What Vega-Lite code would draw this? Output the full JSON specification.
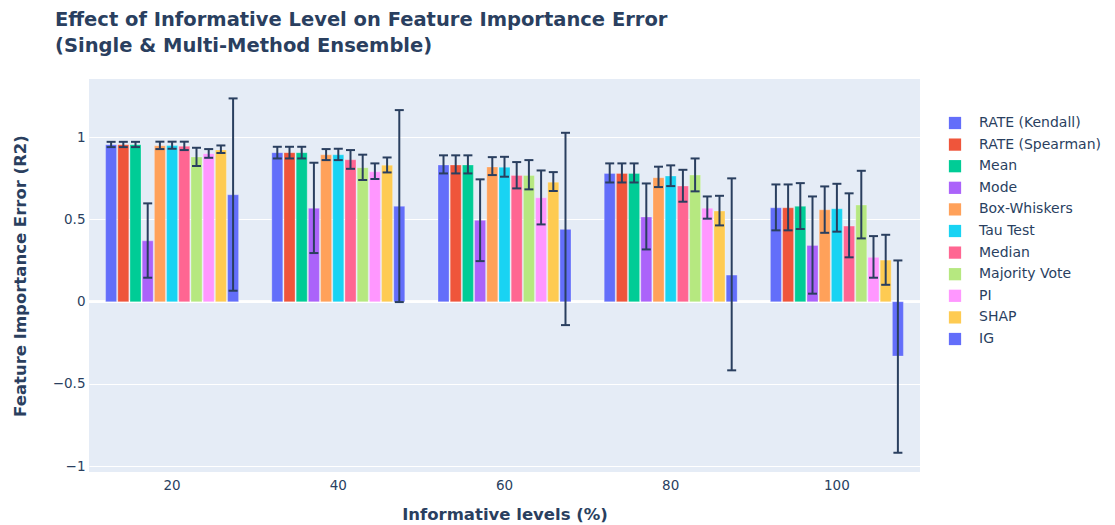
{
  "$schema": "https://vega.github.io/schema/vega-lite/v6.json",
  "autosize": "none",
  "width": 831,
  "height": 393,
  "padding": {"left": 89, "top": 79, "right": 195, "bottom": 53},
  "background": "white",
  "title": {
    "text": ["Effect of Informative Level on Feature Importance Error", "(Single & Multi-Method Ensemble)"],
    "anchor": "start",
    "frame": "group",
    "dx": -34,
    "offset": 23,
    "font": "DejaVu Sans",
    "fontSize": 19.5,
    "fontWeight": "bold",
    "color": "#2a3f5f",
    "lineHeight": 26
  },
  "config": {
    "view": {"fill": "#E5ECF6", "stroke": null},
    "axis": {
      "labelFont": "DejaVu Sans",
      "labelFontSize": 13.5,
      "labelColor": "#2a3f5f",
      "titleFont": "DejaVu Sans",
      "titleFontSize": 16.5,
      "titleFontWeight": "bold",
      "titleColor": "#2a3f5f",
      "domain": false,
      "ticks": false,
      "gridColor": "white",
      "gridWidth": 1.2,
      "gridOpacity": 1
    },
    "legend": {
      "labelFont": "DejaVu Sans",
      "labelFontSize": 14,
      "labelColor": "#2a3f5f"
    }
  },
  "data": {
    "values": [
      {"level": "20", "method": "RATE (Kendall)", "value": 0.955, "lo": 0.94, "hi": 0.972},
      {"level": "20", "method": "RATE (Spearman)", "value": 0.955, "lo": 0.94, "hi": 0.972},
      {"level": "20", "method": "Mean", "value": 0.955, "lo": 0.94, "hi": 0.972},
      {"level": "20", "method": "Mode", "value": 0.37, "lo": 0.146, "hi": 0.598},
      {"level": "20", "method": "Box-Whiskers", "value": 0.948, "lo": 0.928, "hi": 0.973},
      {"level": "20", "method": "Tau Test", "value": 0.95, "lo": 0.93, "hi": 0.973},
      {"level": "20", "method": "Median", "value": 0.945, "lo": 0.922, "hi": 0.973},
      {"level": "20", "method": "Majority Vote", "value": 0.88, "lo": 0.825, "hi": 0.936},
      {"level": "20", "method": "PI", "value": 0.9, "lo": 0.875, "hi": 0.928},
      {"level": "20", "method": "SHAP", "value": 0.922, "lo": 0.904, "hi": 0.95},
      {"level": "20", "method": "IG", "value": 0.65, "lo": 0.067, "hi": 1.236},

      {"level": "40", "method": "RATE (Kendall)", "value": 0.906, "lo": 0.871, "hi": 0.942},
      {"level": "40", "method": "RATE (Spearman)", "value": 0.906, "lo": 0.871, "hi": 0.942},
      {"level": "40", "method": "Mean", "value": 0.906, "lo": 0.871, "hi": 0.942},
      {"level": "40", "method": "Mode", "value": 0.568, "lo": 0.296, "hi": 0.845},
      {"level": "40", "method": "Box-Whiskers", "value": 0.893, "lo": 0.861, "hi": 0.928},
      {"level": "40", "method": "Tau Test", "value": 0.893, "lo": 0.861, "hi": 0.93},
      {"level": "40", "method": "Median", "value": 0.863, "lo": 0.808, "hi": 0.922},
      {"level": "40", "method": "Majority Vote", "value": 0.815, "lo": 0.74, "hi": 0.894},
      {"level": "40", "method": "PI", "value": 0.79, "lo": 0.746, "hi": 0.841},
      {"level": "40", "method": "SHAP", "value": 0.83, "lo": 0.786, "hi": 0.877},
      {"level": "40", "method": "IG", "value": 0.58, "lo": -0.002, "hi": 1.165},

      {"level": "60", "method": "RATE (Kendall)", "value": 0.831, "lo": 0.78, "hi": 0.89},
      {"level": "60", "method": "RATE (Spearman)", "value": 0.831, "lo": 0.78, "hi": 0.89},
      {"level": "60", "method": "Mean", "value": 0.831, "lo": 0.78, "hi": 0.89},
      {"level": "60", "method": "Mode", "value": 0.495, "lo": 0.247, "hi": 0.744},
      {"level": "60", "method": "Box-Whiskers", "value": 0.819, "lo": 0.77, "hi": 0.879},
      {"level": "60", "method": "Tau Test", "value": 0.817, "lo": 0.76, "hi": 0.881},
      {"level": "60", "method": "Median", "value": 0.768, "lo": 0.689, "hi": 0.849},
      {"level": "60", "method": "Majority Vote", "value": 0.768, "lo": 0.683, "hi": 0.861},
      {"level": "60", "method": "PI", "value": 0.632, "lo": 0.47, "hi": 0.798},
      {"level": "60", "method": "SHAP", "value": 0.727, "lo": 0.673, "hi": 0.788},
      {"level": "60", "method": "IG", "value": 0.44, "lo": -0.142, "hi": 1.027},

      {"level": "80", "method": "RATE (Kendall)", "value": 0.78, "lo": 0.725, "hi": 0.841},
      {"level": "80", "method": "RATE (Spearman)", "value": 0.78, "lo": 0.725, "hi": 0.841},
      {"level": "80", "method": "Mean", "value": 0.78, "lo": 0.725, "hi": 0.841},
      {"level": "80", "method": "Mode", "value": 0.515, "lo": 0.318, "hi": 0.719},
      {"level": "80", "method": "Box-Whiskers", "value": 0.754, "lo": 0.697, "hi": 0.821},
      {"level": "80", "method": "Tau Test", "value": 0.764, "lo": 0.703, "hi": 0.829},
      {"level": "80", "method": "Median", "value": 0.703, "lo": 0.608, "hi": 0.802},
      {"level": "80", "method": "Majority Vote", "value": 0.77, "lo": 0.671, "hi": 0.871},
      {"level": "80", "method": "PI", "value": 0.569, "lo": 0.505, "hi": 0.64},
      {"level": "80", "method": "SHAP", "value": 0.551, "lo": 0.464, "hi": 0.644},
      {"level": "80", "method": "IG", "value": 0.162, "lo": -0.417, "hi": 0.75},

      {"level": "100", "method": "RATE (Kendall)", "value": 0.571, "lo": 0.434, "hi": 0.713},
      {"level": "100", "method": "RATE (Spearman)", "value": 0.571, "lo": 0.434, "hi": 0.713},
      {"level": "100", "method": "Mean", "value": 0.58, "lo": 0.442, "hi": 0.721},
      {"level": "100", "method": "Mode", "value": 0.342, "lo": 0.049, "hi": 0.64},
      {"level": "100", "method": "Box-Whiskers", "value": 0.559, "lo": 0.419, "hi": 0.701},
      {"level": "100", "method": "Tau Test", "value": 0.565, "lo": 0.426, "hi": 0.717},
      {"level": "100", "method": "Median", "value": 0.46, "lo": 0.27, "hi": 0.659},
      {"level": "100", "method": "Majority Vote", "value": 0.588, "lo": 0.385, "hi": 0.796},
      {"level": "100", "method": "PI", "value": 0.27, "lo": 0.146, "hi": 0.399},
      {"level": "100", "method": "SHAP", "value": 0.253, "lo": 0.103, "hi": 0.407},
      {"level": "100", "method": "IG", "value": -0.33, "lo": -0.918, "hi": 0.251}
    ]
  },
  "encoding": {
    "x": {
      "field": "level",
      "type": "ordinal",
      "sort": ["20", "40", "60", "80", "100"],
      "scale": {"paddingInner": 0.2, "paddingOuter": 0.1},
      "axis": {"title": "Informative levels (%)", "labelAngle": 0, "labelPadding": 6, "titlePadding": 15, "grid": false}
    },
    "xOffset": {
      "field": "method",
      "type": "nominal",
      "sort": ["RATE (Kendall)", "RATE (Spearman)", "Mean", "Mode", "Box-Whiskers", "Tau Test", "Median", "Majority Vote", "PI", "SHAP", "IG"],
      "scale": {"paddingInner": 0.1, "paddingOuter": 0}
    }
  },
  "layer": [
    {
      "mark": {"type": "rule", "color": "white", "strokeWidth": 2},
      "encoding": {"x": null, "xOffset": null, "y": {"datum": 0, "type": "quantitative"}}
    },
    {
      "mark": {"type": "bar", "stroke": "white", "strokeWidth": 0.5, "strokeOpacity": 0.5},
      "encoding": {
        "y": {
          "field": "value",
          "type": "quantitative",
          "scale": {"domain": [-1.035, 1.354], "nice": false, "zero": false},
          "axis": {"title": "Feature Importance Error (R2)", "grid": true, "values": [-1, -0.5, 0, 0.5, 1], "format": "~g", "labelPadding": 4, "titleX": -69, "titleBaseline": "middle"}
        },
        "color": {
          "field": "method",
          "type": "nominal",
          "sort": ["RATE (Kendall)", "RATE (Spearman)", "Mean", "Mode", "Box-Whiskers", "Tau Test", "Median", "Majority Vote", "PI", "SHAP", "IG"],
          "scale": {
            "domain": ["RATE (Kendall)", "RATE (Spearman)", "Mean", "Mode", "Box-Whiskers", "Tau Test", "Median", "Majority Vote", "PI", "SHAP", "IG"],
            "range": ["#636efa", "#EF553B", "#00cc96", "#ab63fa", "#FFA15A", "#19d3f3", "#FF6692", "#B6E880", "#FF97FF", "#FECB52", "#636efa"]
          },
          "legend": {
            "title": null,
            "orient": "none",
            "legendX": 859,
            "legendY": 37,
            "symbolType": "square",
            "symbolSize": 150,
            "symbolStrokeWidth": 0,
            "symbolOpacity": 1,
            "labelOffset": 17,
            "rowPadding": 7.6
          }
        }
      }
    },
    {
      "mark": {"type": "rule", "color": "#2a3f5f", "strokeWidth": 2},
      "encoding": {
        "y": {"field": "lo", "type": "quantitative"},
        "y2": {"field": "hi"}
      }
    },
    {
      "mark": {"type": "tick", "color": "#2a3f5f", "thickness": 2, "size": 9, "opacity": 1},
      "encoding": {"y": {"field": "lo", "type": "quantitative"}}
    },
    {
      "mark": {"type": "tick", "color": "#2a3f5f", "thickness": 2, "size": 9, "opacity": 1},
      "encoding": {"y": {"field": "hi", "type": "quantitative"}}
    }
  ]
}
